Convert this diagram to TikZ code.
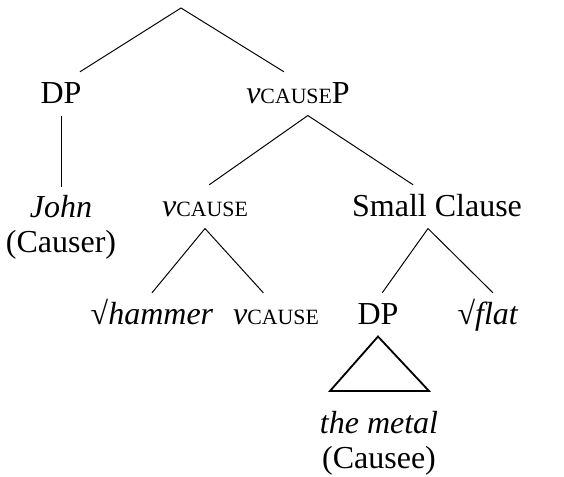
\documentclass[tikz,border=0pt]{standalone}
\usepackage{fontspec}
\setmainfont{Liberation Serif}

\newcommand{\vcause}{\textit{v}{\fontsize{15.5pt}{16pt}\selectfont CAUSE}}

\tikzset{
  cat/.style={anchor=base, inner xsep=2pt, inner ysep=5.7pt, text height=17pt, text depth=2.3pt},
  leaf/.style={anchor=north, align=center, inner ysep=5.7pt},
  branch/.style={line width=0.7pt},
  roof/.style={line width=1.3pt, line join=miter}
}

\begin{document}
\begin{tikzpicture}[x=0.025cm, y=-0.025cm, font=\fontsize{22.76pt}{24.9pt}\selectfont]
			\useasboundingbox (0,0) rectangle (564,477);

			\coordinate (root) at (181,8);
			\node[cat] (dp) at (61,104) {DP};
			\node[cat] (vcp) at (298,104) {\vcause P};

			\node[leaf] (john) at (61,187) {\textit{John}\\(Causer)};
			\node[cat] (vc) at (205,217) {\vcause};
			\node[cat] (sc) at (437,217) {Small Clause};

			\node[cat] (hammer) at (152,325) {√\textit{hammer}};
			\node[cat] (vchead) at (276,325) {\vcause};
			\node[cat] (dpobj) at (378,325) {DP};
			\node[cat] (flat) at (488,325) {√\textit{flat}};

			\node[leaf] (metal) at (379,403) {\textit{the metal}\\(Causee)};
			\coordinate (roof-l) at (330,391);
			\coordinate (roof-r) at (429,391);

			% branches (ends nudged a little off the labels' centres)
			\draw[branch] (root) -- ([xshift=13.5pt]dp.north);
			\draw[branch] (root) -- ([xshift=-10pt]vcp.north);
			\draw[branch] (dp.south) -- (john.north);
			\draw[branch] ([xshift=7pt]vcp.south) -- ([xshift=3pt]vc.north);
			\draw[branch] ([xshift=7pt]vcp.south) -- ([xshift=-17pt]sc.north);
			\draw[branch] (vc.south) -- (hammer.north);
			\draw[branch] (vc.south) -- ([xshift=-9pt]vchead.north);
			\draw[branch] ([xshift=-6.4pt]sc.south) -- ([xshift=3pt]dpobj.north);
			\draw[branch] ([xshift=-6.4pt]sc.south) -- ([xshift=3.5pt]flat.north);

			\draw[roof] (dpobj.south) -- (roof-l) -- (roof-r) -- cycle;
		\end{tikzpicture}
\end{document}
